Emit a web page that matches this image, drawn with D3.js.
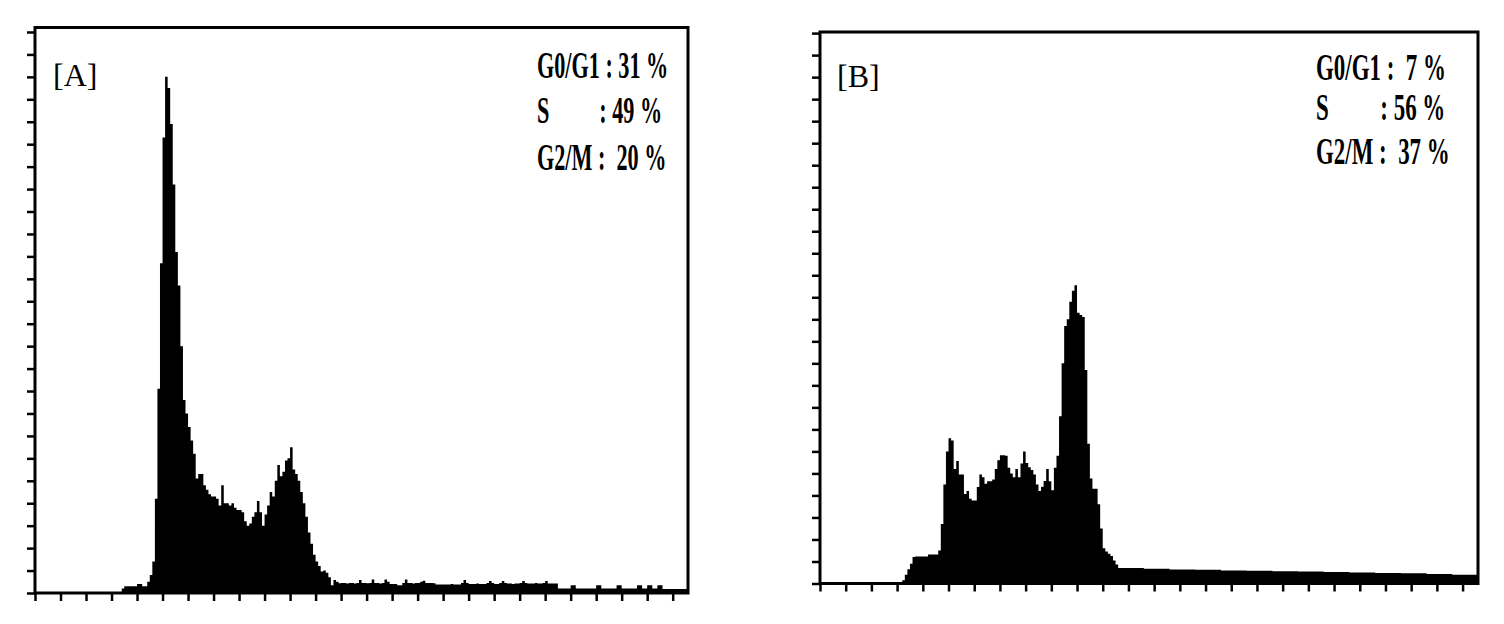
<!DOCTYPE html>
<html><head><meta charset="utf-8">
<script src="https://cdn.jsdelivr.net/npm/d3@7"></script>
<style>html,body{margin:0;padding:0;background:#fff;} text{white-space:pre;}</style>
</head><body><svg id="c" width="1504" height="624"></svg>
<script>
// DNA-content histograms, counts per channel (0..255)
const countsA = [
0,0,0,0,0,0,0,0,0,0,
0,0,0,0,0,0,0,0,0,0,
0,0,0,0,0,0,0,0,0,0,
0,0,0,0,2,3,3,3,3,3,
4,4,3,3,5,8,14,42,91,147,
203,230,225,209,182,152,137,110,86,80,
74,68,62,51,53,53,48,46,44,43,
43,42,39,48,40,40,39,40,38,37,
37,36,32,30,31,34,36,41,36,30,
35,39,45,43,50,57,52,54,59,60,
65,55,53,50,45,40,34,27,22,17,
14,12,9.6,10,9,7,3.5,5.8,5,4.3,
4.5,4.5,4.2,4.5,4.5,4.2,4.5,5.8,4.5,4.5,
4.3,4.5,6,4.5,4.5,4.2,4.5,6,5,4,
4,4,3.5,3.5,4.5,6,4.5,4.5,4.2,4.5,
4.5,5,5.5,4.5,4.5,4.5,4.3,3.8,3.8,3.8,
3.8,3.8,3.8,4,3.8,3.8,3.8,4.5,5.8,4.5,
4,4,4,4.2,4,4,4,4.5,5.3,4.5,
4,4,4.5,5.3,4.5,4.2,4.2,4,4.2,4.2,
4.5,5.3,4.5,4.2,4.2,4.2,4.5,4.2,4.2,4.5,
5.3,4.2,4.2,4.2,4.2,2,2,2,2,2,
3.5,3.5,2,2,2,2,2,2,2,2,
3.5,3.5,2,2,2,2,2,2,3.5,3.5,
2,2,2,2,2,2,3.5,3.5,2,2,
3.5,3.5,2,2,3.5,3.5,1.8,1.8,1.8,1.8,
1.8,1.8,1.8,1.8,1.8,1.8
];
const countsB = [
0,0,0,0,0,0,0,0,0,0,
0,0,0,0,0,0,0,0,0,0,
0,0,0,0,0,0,0,0,0,0,
0,0.6,1.5,4,6.5,9,12,12.3,12.3,12.3,
12.3,12.3,13.2,13.2,13.2,13.2,15,27,45,60,
66,65,52,55.6,49.5,49.5,40.7,42,38.5,37.7,
37.7,43.8,49.5,48.3,45.3,46.5,46.5,47.2,52,56,
58.2,58.2,58,52.6,50,48.3,52,48.3,54.5,60,
54.7,52.8,51.5,49.5,45,42,44,46.6,52,46.5,
42.4,52.6,58,76,100,117,120,128,133,135.5,
123,122,121,97,63.5,47.7,43,43,36,25,
16,14.5,13.5,12.5,10.5,8.6,7,7,7,7,
7,7,7,7,7,7,6.7,6.7,6.7,6.7,
6.7,6.7,6.7,6.7,6.7,6.7,6.4,6.4,6.4,6.4,
6.4,6.4,6.4,6.4,6.4,6.4,6.2,6.2,6.2,6.2,
6.2,6.2,6.2,6.2,6.2,6.2,5.9,5.9,5.9,5.9,
5.9,5.9,5.9,5.9,5.9,5.9,5.8,5.8,5.8,5.8,
5.8,5.8,5.8,5.8,5.8,5.8,5.6,5.6,5.6,5.6,
5.6,5.6,5.6,5.6,5.6,5.6,5.4,5.4,5.4,5.4,
5.4,5.4,5.4,5.4,5.4,5.4,5.2,5.2,5.2,5.2,
5.2,5.2,5.2,5.2,5.2,5.2,5,5,5,5,
5,5,5,5,5,5,4.8,4.8,4.8,4.8,
4.8,4.8,4.8,4.8,4.8,4.8,4.6,4.6,4.6,4.6,
4.6,4.6,4.6,4.6,4.6,4.6,4.3,4.3,4.3,4.3,
4.3,4.3,4.3,4.3,4.3,4.3,4,4,4,4,
4,4,4,4,4,4
];
const xTicks = [0,10,20,30,40,50,60,70,80,90,100,110,120,130,140,150,160,170,180,190,200,210,220,230,240,250];
const yTicks = [0,10,20,30,40,50,60,70,80,90,100,110,120,130,140,150,160,170,180,190,200,210,220,230,240,250];
const titles = ["[A]", "[B]"];
const statsA = ["G0/G1 : 31 %", "S         : 49 %", "G2/M :  20 %"];
const statsB = ["G0/G1 :  7 %", "S         : 56 %", "G2/M :  37 %"];

const svg = d3.select("#c");
svg.append("rect").attr("width",1504).attr("height",624).attr("fill","#fff");

const panels = [
  {counts: countsA, stats: statsA, title: titles[0], left: 35, right: 688, top: 27.5, bottom: 593, yMax: 252,
   titleX: 53, titleY: 86, textX: 537, baselines: [78, 123, 170], sx: 0.6},
  {counts: countsB, stats: statsB, title: titles[1], left: 820, right: 1478, top: 32, bottom: 583.5, yMax: 250.5,
   titleX: 837, titleY: 87, textX: 1316, baselines: [80, 120, 164], sx: 0.62}
];

panels.forEach(p => {
  const g = svg.append("g");
  const x = d3.scaleLinear().domain([0, 256]).range([p.left, p.right]);
  const y = d3.scaleLinear().domain([0, p.yMax]).range([p.bottom, p.top]);
  const pts = p.counts.map((v, i) => [i, v]);
  pts.push([p.counts.length, p.counts[p.counts.length - 1]]);
  const area = d3.area().x(d => x(d[0])).y0(y(0)).y1(d => y(d[1])).curve(d3.curveStepAfter);
  g.append("path").datum(pts).attr("d", area).attr("fill", "#000");

  // frame
  g.append("rect").attr("x", p.left).attr("y", p.top)
    .attr("width", p.right - p.left).attr("height", p.bottom - p.top)
    .attr("fill", "none").attr("stroke", "#000").attr("stroke-width", 3);

  const ax = g.append("g").attr("transform", `translate(0,${p.bottom})`)
    .call(d3.axisBottom(x).tickValues(xTicks).tickSize(8).tickFormat(""));
  const ay = g.append("g").attr("transform", `translate(${p.left},0)`)
    .call(d3.axisLeft(y).tickValues(yTicks).tickSize(8).tickFormat(""));
  [ax, ay].forEach(a => {
    a.select(".domain").remove();
    a.selectAll(".tick line").attr("stroke", "#000").attr("stroke-width", 2.5);
  });

  g.append("text").attr("x", p.titleX).attr("y", p.titleY)
    .attr("font-family", "'Liberation Serif', 'DejaVu Serif', serif")
    .attr("font-size", 32).attr("fill", "#000").text(p.title);

  p.stats.forEach((s, i) => {
    g.append("g").attr("transform", `translate(${p.textX},${p.baselines[i]}) scale(${p.sx},1)`)
      .append("text").attr("x", 0).attr("y", 0)
      .attr("font-family", "'Liberation Serif', serif").attr("font-weight", "bold")
      .attr("font-size", 37).attr("fill", "#000").text(s);
  });
});
</script></body></html>
